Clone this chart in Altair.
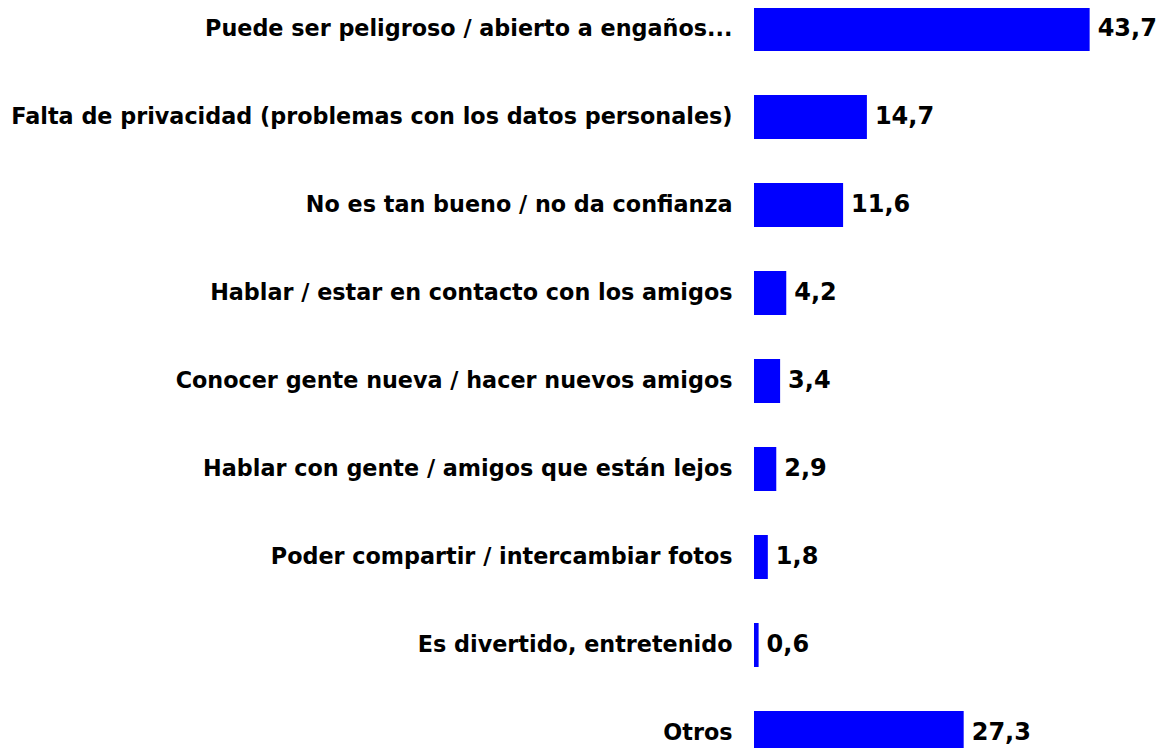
import altair as alt
import pandas as pd

categories = [
    "Puede ser peligroso / abierto a engaños...",
    "Falta de privacidad (problemas con los datos personales)",
    "No es tan bueno / no da confianza",
    "Hablar / estar en contacto con los amigos",
    "Conocer gente nueva / hacer nuevos amigos",
    "Hablar con gente / amigos que están lejos",
    "Poder compartir / intercambiar fotos",
    "Es divertido, entretenido",
    "Otros",
]
values = [43.7, 14.7, 11.6, 4.2, 3.4, 2.9, 1.8, 0.6, 27.3]

df = pd.DataFrame({"cat": categories, "val": values})
df["lbl"] = [f"{v:.1f}".replace(".", ",") for v in values]

y_enc = alt.Y(
    "cat:N",
    sort=categories,
    title=None,
    scale=alt.Scale(range=[-1, 747], paddingInner=0.5, paddingOuter=0),
    axis=alt.Axis(
        ticks=False,
        tickSize=0,
        domain=False,
        grid=False,
        labelPadding=22,
        labelFont="DejaVu Sans",
        labelFontWeight="bold",
        labelFontSize=22.3,
        labelColor="#000000",
        labelLimit=900,
        labelAlign="right",
        labelBaseline="middle",
    ),
)
x_enc = alt.X("val:Q", scale=alt.Scale(domain=[0, 52.6]), axis=None, title=None)

bars = alt.Chart(df).mark_bar(color="#0000FF").encode(x=x_enc, y=y_enc)
text = alt.Chart(df).mark_text(
    align="left",
    baseline="middle",
    dx=8,
    font="DejaVu Sans",
    fontWeight="bold",
    fontSize=24,
    color="#000000",
).encode(x=x_enc, y=y_enc, text="lbl:N")

chart = (
    alt.layer(bars, text)
    .properties(
        width=404,
        height=740,
        autosize=alt.AutoSizeParams(type="none"),
        padding={"left": 746, "top": 0, "right": 0, "bottom": 0},
        background="#FFFFFF",
    )
    .configure_view(stroke=None)
)

chart.save("out.html", embed_options={"renderer": "svg", "actions": False})
